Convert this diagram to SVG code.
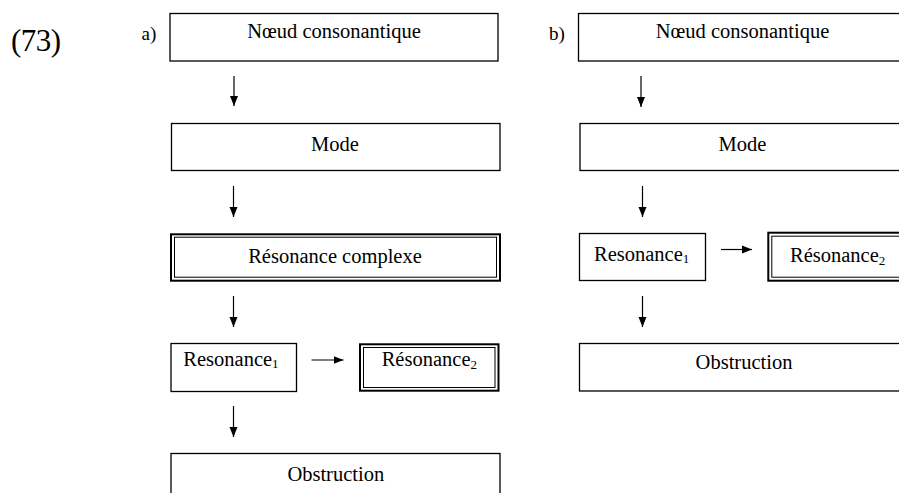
<svg xmlns="http://www.w3.org/2000/svg" width="899" height="493" viewBox="0 0 899 493">
<style>
.box{fill:#fff;stroke:#000;stroke-width:1.3}
.outer{fill:#fff;stroke:#000;stroke-width:2}
.inner{fill:none;stroke:#000;stroke-width:1}
.t{font-family:"Liberation Serif","Times New Roman",serif;font-size:20.5px;fill:#000}
.c{text-anchor:middle}
.lbl{font-family:"Liberation Serif","Times New Roman",serif;fill:#000}
.conn{stroke:#000;stroke-width:1.2;fill:none;marker-end:url(#ah)}
</style>
<defs>
<marker id="ah" markerUnits="userSpaceOnUse" markerWidth="10" markerHeight="10" viewBox="0 0 10 8" refX="10" refY="4" orient="auto">
<path d="M0,0 L10,4 L0,8 Z" fill="#000"/>
</marker>
</defs>
<rect width="899" height="493" fill="#fff"/>
<text class="lbl" x="11" y="51" font-size="31" textLength="50">(73)</text>
<text class="lbl" x="141.5" y="39.5" font-size="19">a)</text>
<text class="lbl" x="549" y="39.5" font-size="19">b)</text>

<g id="connectors">
<line class="conn" x1="234" y1="76" x2="234" y2="106"/>
<line class="conn" x1="233.5" y1="186" x2="233.5" y2="217"/>
<line class="conn" x1="233.5" y1="296" x2="233.5" y2="327"/>
<line class="conn" x1="233.5" y1="406" x2="233.5" y2="437"/>
<line class="conn" x1="311.5" y1="360" x2="343.5" y2="360"/>
<line class="conn" x1="641" y1="76" x2="641" y2="107"/>
<line class="conn" x1="642.5" y1="186" x2="642.5" y2="217"/>
<line class="conn" x1="642.5" y1="296" x2="642.5" y2="327"/>
<line class="conn" x1="721" y1="249.5" x2="752" y2="249.5"/>
</g>

<g id="a-noeud">
<rect class="box" x="170" y="13.5" width="328" height="47.5"/>
<text class="t c" x="334" y="37.5">Nœud consonantique</text>
</g>
<g id="a-mode">
<rect class="box" x="171.5" y="123.5" width="328.5" height="47"/>
<text class="t c" x="335" y="150.5">Mode</text>
</g>
<g id="a-resonance-complexe">
<rect class="outer" x="171" y="234.3" width="329" height="46.4"/>
<rect class="inner" x="174.5" y="237.2" width="322" height="40"/>
<text class="t c" x="335" y="262.7">Résonance complexe</text>
</g>
<g id="a-resonance1">
<rect class="box" x="171" y="343.5" width="125.5" height="48"/>
<text class="t" x="183.3" y="365.7">Resonance<tspan font-size="13" dy="2">1</tspan></text>
</g>
<g id="a-resonance2">
<rect class="outer" x="360" y="344.3" width="138.5" height="46.4"/>
<rect class="inner" x="363.5" y="347.5" width="131.5" height="40"/>
<text class="t" x="381.7" y="366">Résonance<tspan font-size="13" dy="3">2</tspan></text>
</g>
<g id="a-obstruction">
<rect class="box" x="171" y="453.5" width="329" height="45"/>
<text class="t c" x="335.8" y="481">Obstruction</text>
</g>

<g id="b-noeud">
<rect class="box" x="578.5" y="13.5" width="330" height="47.5"/>
<text class="t c" x="742.5" y="37.5">Nœud consonantique</text>
</g>
<g id="b-mode">
<rect class="box" x="580" y="123.5" width="330" height="47"/>
<text class="t c" x="742.5" y="150.5">Mode</text>
</g>
<g id="b-resonance1">
<rect class="box" x="579.5" y="233.5" width="126" height="47"/>
<text class="t" x="594" y="261">Resonance<tspan font-size="13" dy="2">1</tspan></text>
</g>
<g id="b-resonance2">
<rect class="outer" x="768.3" y="232.7" width="140" height="48"/>
<rect class="inner" x="771.8" y="236.2" width="140" height="41"/>
<text class="t" x="790" y="261.7">Résonance<tspan font-size="13" dy="3">2</tspan></text>
</g>
<g id="b-obstruction">
<rect class="box" x="579.5" y="343.5" width="330" height="47.5"/>
<text class="t c" x="744" y="369">Obstruction</text>
</g>
</svg>
